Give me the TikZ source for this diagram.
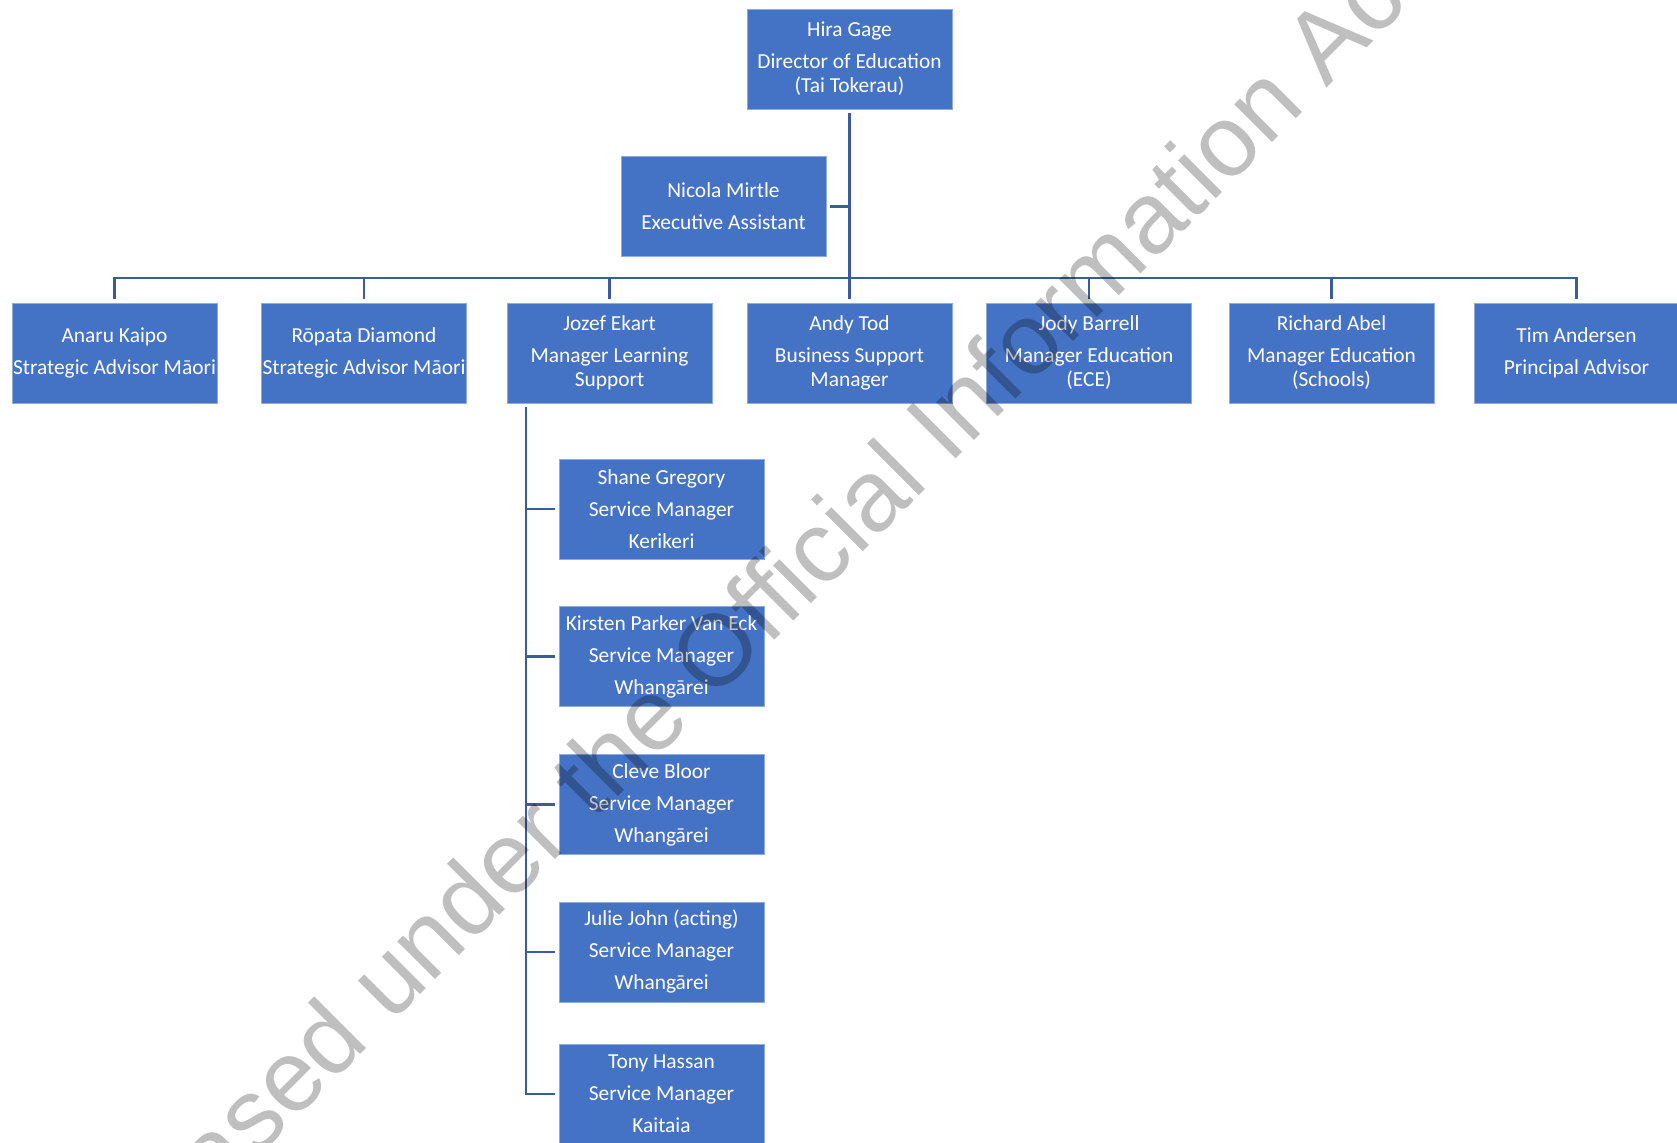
\documentclass[tikz,border=0pt]{standalone}
\usepackage{fontspec}
\setmainfont{Carlito}
\newfontfamily\stampfont{Liberation Sans}
\definecolor{boxblue}{HTML}{4472C4}
\definecolor{edgeblue}{HTML}{8FAADC}
\definecolor{linkblue}{HTML}{3A5C9E}
\tikzset{every node/.style={font=\fontsize{10.7}{12}\selectfont},
  post/.style={rectangle,fill=boxblue,draw=edgeblue,line width=0.4pt,text=white,align=center,
    minimum width=102.5pt,minimum height=50pt,inner sep=0pt,outer sep=1.8pt},
  link/.style={draw,color=linkblue,line width=1.3pt}}

\begin{document}
\begin{tikzpicture}[x=0.5pt,y=-0.5pt]
\useasboundingbox (0,0) rectangle (1677,1143);
\node[post] (hira) at (849.5,59) {Hira Gage\\[4pt]Director of Education\\(Tai Tokerau)};
\node[post] (nicola) at (723.5,206.5) {Nicola Mirtle\\[4pt]Executive Assistant};
\node[post] (anaru) at (114.5,353) {Anaru Kaipo\\[4pt]Strategic Advisor Māori};
\node[post] (ropata) at (364,353) {Rōpata Diamond\\[4pt]Strategic Advisor Māori};
\node[post] (jozef) at (609.5,353) {Jozef Ekart\\[4pt]Manager Learning\\Support};
\node[post] (andy) at (849.5,353) {Andy Tod\\[4pt]Business Support\\Manager};
\node[post] (jody) at (1089,353) {Jody Barrell\\[4pt]Manager Education\\(ECE)};
\node[post] (richard) at (1331.5,353) {Richard Abel\\[4pt]Manager Education\\(Schools)};
\node[post] (tim) at (1576.5,353) {Tim Andersen\\[4pt]Principal Advisor};
\node[post] (shane) at (661.5,509) {Shane Gregory\\[4pt]Service Manager\\[4pt]Kerikeri};
\node[post] (kirsten) at (661.5,656.5) {Kirsten Parker Van Eck\\[4pt]Service Manager\\[4pt]Whangārei};
\node[post] (cleve) at (661.5,804.5) {Cleve Bloor\\[4pt]Service Manager\\[4pt]Whangārei};
\node[post] (julie) at (661.5,952) {Julie John (acting)\\[4pt]Service Manager\\[4pt]Whangārei};
\node[post] (tony) at (661.5,1094) {Tony Hassan\\[4pt]Service Manager\\[4pt]Kaitaia};
\coordinate (bar) at (0,278);
\coordinate (spine) at (526,0);
% top level
\path[link] (hira.south) -- (hira.south |- bar);
\path[link] (nicola.east) -- (nicola.east -| hira.south);
\path[link] (anaru.north) -- (anaru.north |- bar) -- (tim.north |- bar) -- (tim.north);
\path[link] (ropata.north) -- (ropata.north |- bar);
\path[link] (jozef.north) -- (jozef.north |- bar);
\path[link] (andy.north) -- (andy.north |- bar);
\path[link] (jody.north) -- (jody.north |- bar);
\path[link] (richard.north) -- (richard.north |- bar);
% learning support
\path[link] (jozef.south -| spine) -- (tony.west -| spine) -- (tony.west);
\path[link] (shane.west -| spine) -- (shane.west);
\path[link] (kirsten.west -| spine) -- (kirsten.west);
\path[link] (cleve.west -| spine) -- (cleve.west);
\path[link] (julie.west -| spine) -- (julie.west);
\node[rotate=45,anchor=base,text=black,text opacity=0.25,font=\stampfont\fontsize{50.5}{60}\selectfont]
  (stamp) at (750,665) {Released under the Official Information Act};
\end{tikzpicture}
\end{document}
